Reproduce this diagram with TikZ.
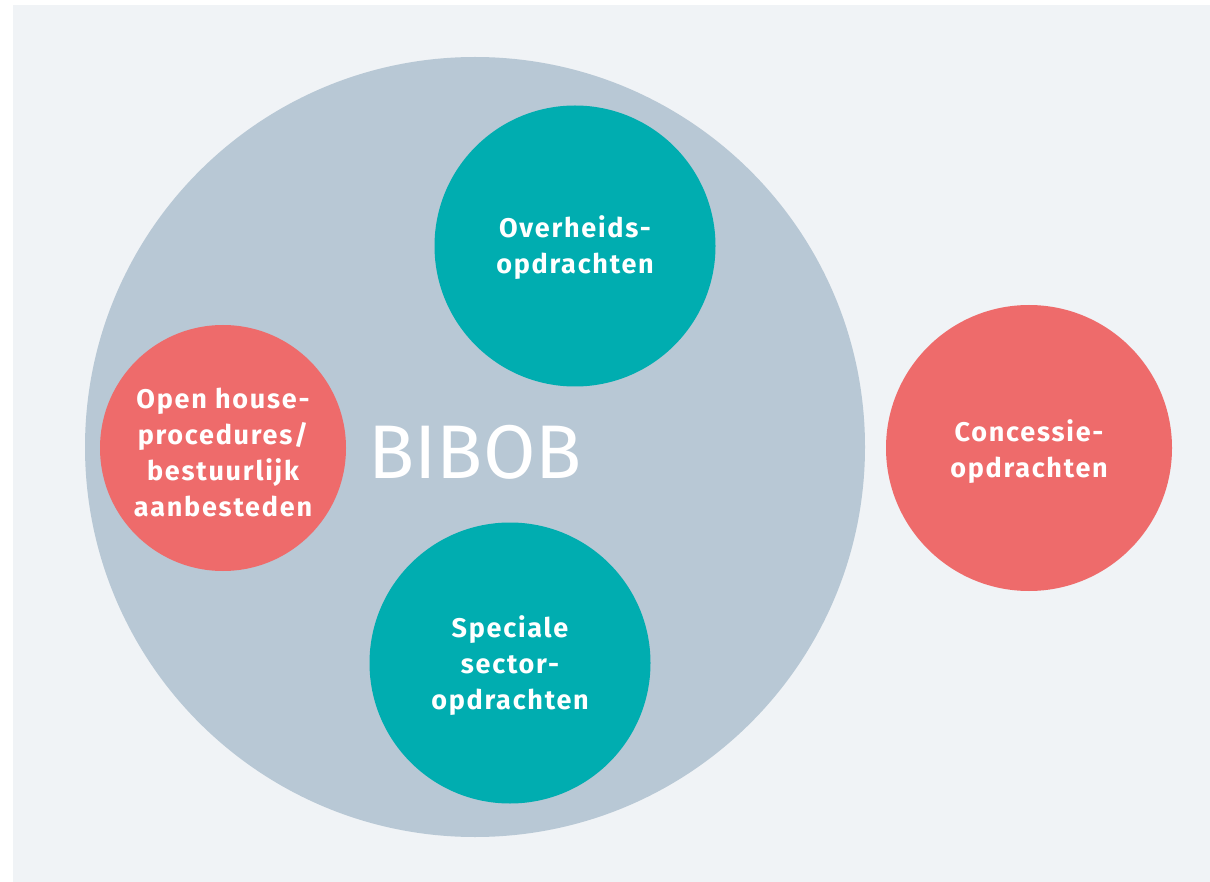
\documentclass[tikz,border=0pt]{standalone}
\usepackage{fontspec}
\setmainfont{Fira Sans}
\begin{document}
\begin{tikzpicture}[x=1pt,y=-1pt,
  lbl/.style={text=white,font=\fontsize{27}{36}\selectfont\bfseries\addfontfeature{LetterSpace=6.5},align=center},
  disc/.style={circle,inner sep=0pt}]
\definecolor{bgpanel}{HTML}{F0F3F6}
\definecolor{biggray}{HTML}{B8C8D5}
\definecolor{tealc}{HTML}{00ADB0}
\definecolor{redc}{HTML}{EE6B6B}
\useasboundingbox (0,0) rectangle (1210,882);
\fill[white] (0,0) rectangle (1210,882);
\fill[bgpanel] (13,5) rectangle (1210,882);
\node[disc,fill=biggray,minimum size=780pt] (bibob) at (475,447) {};
\node[text=white,font=\fontsize{76}{80}\selectfont] (bibobtxt) at (475,452) {BIBOB};
\node[disc,fill=tealc,minimum size=281pt] (overheid) at (575,246) {};
\node[lbl] (overheidtxt) at (575,248) {Overheids-\\opdrachten};
\node[disc,fill=tealc,minimum size=281pt] (speciale) at (510,663) {};
\node[lbl] (specialetxt) at (510,666) {Speciale\\sector-\\opdrachten};
\node[disc,fill=redc,minimum size=246pt] (openhouse) at (223,448) {};
\node[lbl] (openhousetxt) at (223,452) {Open house-\\procedures/\\bestuurlijk\\aanbesteden};
\node[disc,fill=redc,minimum size=286pt] (concessie) at (1029,448) {};
\node[lbl] (concessietxt) at (1029,452) {Concessie-\\opdrachten};
\end{tikzpicture}
\end{document}
